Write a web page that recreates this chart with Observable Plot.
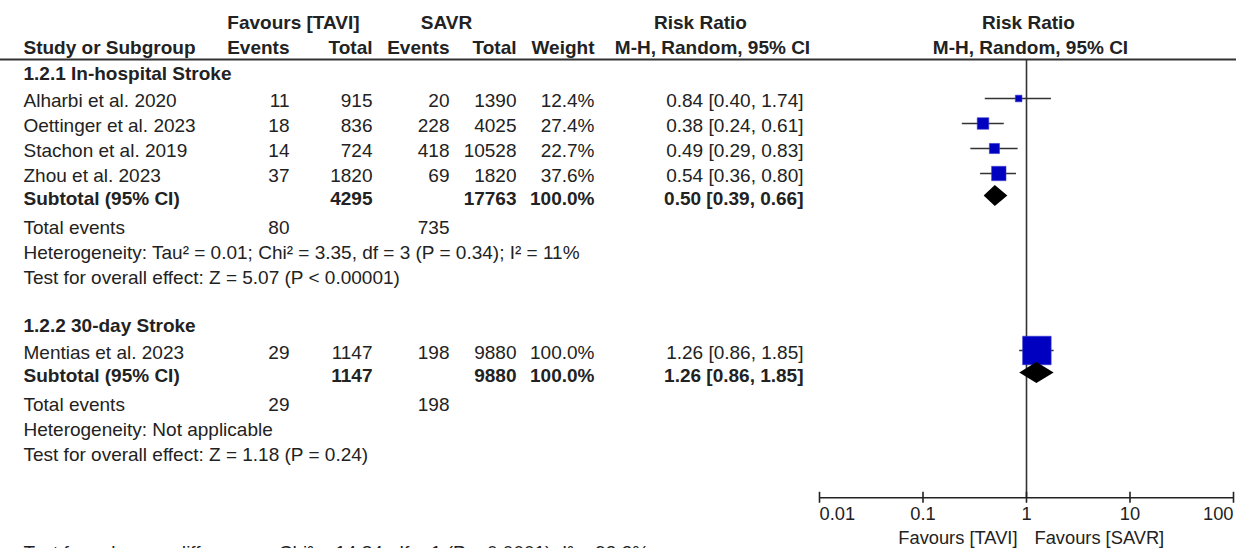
<!DOCTYPE html>
<html>
<head>
<meta charset="utf-8">
<script src="https://cdn.jsdelivr.net/npm/d3@7"></script>
<script src="https://cdn.jsdelivr.net/npm/@observablehq/plot@0.6"></script>
<style>
  html, body { margin: 0; padding: 0; background: #fff; overflow: hidden; }
  #wrap { position: relative; width: 1236px; height: 548px; }
  #wrap svg { position: absolute; left: 0; top: 0; background: transparent; }
</style>
</head>
<body>
<div id="wrap"></div>
<script>
// ---------------- data ----------------
const studies     = ["Alharbi et al. 2020", "Oettinger et al. 2023", "Stachon et al. 2019", "Zhou et al. 2023", "Mentias et al. 2023"];
const studyGroup  = ["1.2.1", "1.2.1", "1.2.1", "1.2.1", "1.2.2"];
const tavEvents   = [11, 18, 14, 37, 29];
const tavTotal    = [915, 836, 724, 1820, 1147];
const savrEvents  = [20, 228, 418, 69, 198];
const savrTotal   = [1390, 4025, 10528, 1820, 9880];
const weight      = [12.4, 27.4, 22.7, 37.6, 100.0];
const rr          = [0.84, 0.38, 0.49, 0.54, 1.26];
const rrLo        = [0.40, 0.24, 0.29, 0.36, 0.86];
const rrHi        = [1.74, 0.61, 0.83, 0.80, 1.85];

const groupIds        = ["1.2.1", "1.2.2"];
const groupNames      = ["1.2.1 In-hospital Stroke", "1.2.2 30-day Stroke"];
const groupTavTotal   = [4295, 1147];
const groupSavrTotal  = [17763, 9880];
const groupWeight     = [100.0, 100.0];
const groupRR         = [0.50, 1.26];
const groupLo         = [0.39, 0.86];
const groupHi         = [0.66, 1.85];
const groupTavEvents  = [80, 29];
const groupSavrEvents = [735, 198];
const groupHet        = ["Heterogeneity: Tau² = 0.01; Chi² = 3.35, df = 3 (P = 0.34); I² = 11%", "Heterogeneity: Not applicable"];
const groupOverall    = ["Test for overall effect: Z = 5.07 (P < 0.00001)", "Test for overall effect: Z = 1.18 (P = 0.24)"];
const subgroupTest    = "Test for subgroup differences: Chi² = 14.84, df = 1 (P = 0.0001), I² = 93.3%";

const axisTicks   = [0.01, 0.1, 1, 10, 100];
const favourLeft  = "Favours [TAVI]";
const favourRight = "Favours [SAVR]";
const header1 = [["Favours [TAVI]", "tav"], ["SAVR", "savr"], ["Risk Ratio", "rrHead"], ["Risk Ratio", "forestHead"]];
const header2 = [["Study or Subgroup", "study"], ["Events", "tavEv"], ["Total", "tavTot"], ["Events", "savrEv"], ["Total", "savrTot"], ["Weight", "weight"], ["M-H, Random, 95% CI", "rrHead2"], ["M-H, Random, 95% CI", "forestHead2"]];

// ---------------- layout ----------------
const col = {
  study:   {x: 23,   a: "start"},
  tavEv:   {x: 289,  a: "end"},
  tavTot:  {x: 372,  a: "end"},
  savrEv:  {x: 449,  a: "end"},
  savrTot: {x: 516,  a: "end"},
  weight:  {x: 594,  a: "end"},
  rr:      {x: 803,  a: "end"},
  tav:     {x: 293,  a: "middle"},
  savr:    {x: 446,  a: "middle"},
  rrHead:  {x: 700,  a: "middle"},
  rrHead2: {x: 712,  a: "middle"},
  forestHead:  {x: 1028, a: "middle"},
  forestHead2: {x: 1030, a: "middle"}
};
const gap = {"header>study": 1.08, "study>study": 1, "study>subtotal": 0.92, "subtotal>total": 1.16,
             "total>het": 1, "het>test": 1, "test>header": 1.92, "test>final": 3.92};

const rows = [];
groupIds.forEach((g, gi) => {
  rows.push({kind: "header", g: gi});
  studies.forEach((s, i) => { if (studyGroup[i] === g) rows.push({kind: "study", i}); });
  rows.push({kind: "subtotal", g: gi});
  rows.push({kind: "total", g: gi});
  rows.push({kind: "het", g: gi});
  rows.push({kind: "test", g: gi});
});
rows.push({kind: "final"});
let pos = 0;
rows.forEach((r, k) => { if (k > 0) pos += gap[rows[k - 1].kind + ">" + r.kind]; r.y = pos; });

const yHead1 = -2.04, yHead2 = -1.04, yRule = -0.56;
const yAxis = 16.97, yTickLab = 17.62, yFavour = 18.58;
const markDy = -0.08;
const yScale = {domain: [-2.92, 19], range: [0, 548]};

// ---------------- table cells ----------------
const cells = [];
const put = (text, c, y, bold) => cells.push({text: String(text), x: col[c].x, anchor: col[c].a, y, bold: !!bold});
header1.forEach(([t, c]) => put(t, c, yHead1, true));
header2.forEach(([t, c]) => put(t, c, yHead2, true));
const ci = (m, l, h) => `${m.toFixed(2)} [${l.toFixed(2)}, ${h.toFixed(2)}]`;
rows.forEach(r => {
  if (r.kind === "header") put(groupNames[r.g], "study", r.y, true);
  if (r.kind === "study") {
    const i = r.i;
    put(studies[i], "study", r.y); put(tavEvents[i], "tavEv", r.y); put(tavTotal[i], "tavTot", r.y);
    put(savrEvents[i], "savrEv", r.y); put(savrTotal[i], "savrTot", r.y);
    put(weight[i].toFixed(1) + "%", "weight", r.y); put(ci(rr[i], rrLo[i], rrHi[i]), "rr", r.y);
  }
  if (r.kind === "subtotal") {
    const g = r.g;
    put("Subtotal (95% CI)", "study", r.y, true); put(groupTavTotal[g], "tavTot", r.y, true);
    put(groupSavrTotal[g], "savrTot", r.y, true); put(groupWeight[g].toFixed(1) + "%", "weight", r.y, true);
    put(ci(groupRR[g], groupLo[g], groupHi[g]), "rr", r.y, true);
  }
  if (r.kind === "total") {
    put("Total events", "study", r.y); put(groupTavEvents[r.g], "tavEv", r.y); put(groupSavrEvents[r.g], "savrEv", r.y);
  }
  if (r.kind === "het") put(groupHet[r.g], "study", r.y);
  if (r.kind === "test") put(groupOverall[r.g], "study", r.y);
  if (r.kind === "final") put(subgroupTest, "study", r.y);
});

const font = {fontFamily: "'Liberation Sans', Arial, sans-serif", fontSize: "19px", color: "#222", background: "transparent", overflow: "visible"};
const ink = "#222";
const tableSize = 19;

const textMarks = [];
for (const anchor of ["start", "middle", "end"]) {
  for (const bold of [false, true]) {
    const sub = cells.filter(d => d.anchor === anchor && d.bold === bold);
    if (sub.length) textMarks.push(Plot.text(sub, {x: "x", y: "y", text: "text", textAnchor: anchor, fill: ink, fontSize: tableSize, fontWeight: bold ? "bold" : "normal"}));
  }
}

const table = Plot.plot({
  width: 1236, height: 548, margin: 0,
  x: {type: "linear", domain: [0, 1236], range: [0, 1236], axis: null},
  y: {...yScale, axis: null},
  style: font,
  marks: [
    Plot.ruleY([yRule], {stroke: "#333", strokeWidth: 2}),
    ...textMarks
  ]
});

// ---------------- forest ----------------
const studyRows = rows.filter(r => r.kind === "study").map(r => ({
  y: r.y + markDy, rr: rr[r.i], lo: rrLo[r.i], hi: rrHi[r.i], w: weight[r.i]
}));
const diamonds = [];
rows.filter(r => r.kind === "subtotal").forEach(r => {
  const g = r.g, yc = r.y + markDy - 0.02, h = 0.42;
  diamonds.push({z: g, y: yc - h, x1: groupRR[g], x2: groupRR[g]});
  diamonds.push({z: g, y: yc,     x1: groupLo[g], x2: groupHi[g]});
  diamonds.push({z: g, y: yc + h, x1: groupRR[g], x2: groupRR[g]});
});
const tickLabs = axisTicks.map((t, k) => ({t, label: String(t), anchor: k === 0 ? "start" : k === axisTicks.length - 1 ? "end" : "middle"}));
const tickTextMarks = ["start", "middle", "end"].map(a =>
  Plot.text(tickLabs.filter(d => d.anchor === a), {x: "t", y: yTickLab, text: "label", textAnchor: a, fill: ink, fontSize: 18.3}));

const forest = Plot.plot({
  width: 1236, height: 548, marginLeft: 819, marginRight: 3, marginTop: 0, marginBottom: 0,
  x: {type: "log", domain: [0.01, 100], axis: null},
  y: {...yScale, axis: null},
  r: {type: "pow", exponent: 0.7, domain: [0, 100], range: [0, 16.1]},
  style: font,
  marks: [
    Plot.ruleX([1], {y1: yRule, y2: yAxis, stroke: "#333", strokeWidth: 1.6}),
    Plot.ruleY(studyRows, {x1: "lo", x2: "hi", y: "y", stroke: "#333", strokeWidth: 1.6}),
    Plot.dot(studyRows, {x: "rr", y: "y", r: "w", symbol: "square", fill: "#0000c0", stroke: "#3a3ad0", strokeWidth: 0.6}),
    Plot.areaX(diamonds, {y: "y", x1: "x1", x2: "x2", z: "z", fill: "#000", curve: "linear"}),
    Plot.ruleY([yAxis], {x1: axisTicks[0], x2: axisTicks[axisTicks.length - 1], stroke: "#222", strokeWidth: 1.6}),
    Plot.ruleX(axisTicks, {x: d => d, y1: yAxis - 0.22, y2: yAxis + 0.22, stroke: "#222", strokeWidth: 1.6}),
    ...tickTextMarks,
    Plot.text([favourLeft], {x: 1, y: yFavour, text: d => d, textAnchor: "end", dx: -9, fill: ink, fontSize: 18.3}),
    Plot.text([favourRight], {x: 1, y: yFavour, text: d => d, textAnchor: "start", dx: 8, fill: ink, fontSize: 18.3})
  ]
});

const wrap = document.getElementById("wrap");
wrap.appendChild(table);
wrap.appendChild(forest);
</script>
</body>
</html>
